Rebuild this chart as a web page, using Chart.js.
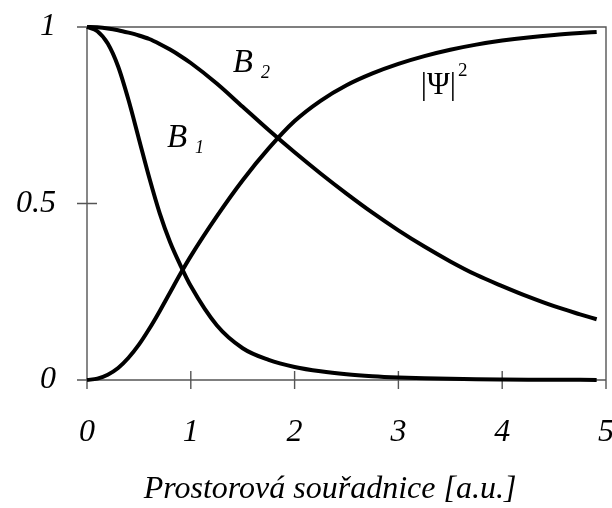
<!DOCTYPE html>
<html>
<head>
<meta charset="utf-8">
<script src="https://cdn.jsdelivr.net/npm/chart.js@4/dist/chart.umd.min.js"></script>
<style>
  html, body { margin: 0; padding: 0; background: #ffffff; }
  canvas { display: block; }
</style>
</head>
<body>
<canvas id="chart" width="612" height="508"></canvas>
<script>
// Spatial coordinate samples (a.u.)
const positions = [0, 0.1, 0.2, 0.3, 0.4, 0.5, 0.6, 0.7, 0.8, 0.9, 1.0,
  1.25, 1.5, 1.75, 2.0, 2.25, 2.5, 2.75, 3.0, 3.25, 3.5, 3.75, 4.0, 4.25, 4.5, 4.75, 4.91];

// B1 – fast decaying curve
const b1Values = [1, 0.988, 0.953, 0.888, 0.793, 0.683, 0.573, 0.473, 0.391, 0.325, 0.266,
  0.155, 0.09, 0.057, 0.037, 0.0245, 0.0162, 0.0108, 0.0072, 0.0048, 0.0032, 0.0021, 0.0014, 0.0009, 0.0006, 0.0004, 0.0003];

// B2 – slow decaying curve
const b2Values = [1, 0.999, 0.996, 0.991, 0.984, 0.976, 0.966, 0.952, 0.936, 0.918, 0.898,
  0.840, 0.774, 0.708, 0.645, 0.585, 0.528, 0.474, 0.424, 0.378, 0.336, 0.298, 0.266, 0.236, 0.209, 0.186, 0.172];

// |Psi|^2 – rising curve
const psiValues = [0, 0.004, 0.015, 0.034, 0.063, 0.100, 0.145, 0.195, 0.248, 0.301, 0.351,
  0.4635, 0.566, 0.656, 0.7335, 0.791, 0.835, 0.8685, 0.8955, 0.9175, 0.9355, 0.95, 0.9615, 0.9705, 0.9775, 0.983, 0.986];

const xTickValues = [0, 1, 2, 3, 4, 5];
const yTickValues = [0, 0.5, 1];
const axisTitle = 'Prostorová souřadnice [a.u.]';

// Curve labels anchored in data coordinates
const curveLabels = [
  { x: 1.405, y: 0.873, main: 'B', sub: '2' },
  { x: 0.77, y: 0.66, main: 'B', sub: '1' }
];
const psiLabel = { x: 3.215, y: 0.811 };

const serif = '"Liberation Serif", "DejaVu Serif", serif';

function toPoints(vals) {
  return positions.map((p, i) => ({ x: p, y: vals[i] }));
}

const lineStyle = {
  showLine: true,
  borderColor: '#000000',
  borderWidth: 4,
  pointRadius: 0,
  pointHoverRadius: 0,
  fill: false,
  cubicInterpolationMode: 'monotone',
  clip: false
};

// Frame around the plot and tick marks crossing the axes
const framePlugin = {
  id: 'frame',
  beforeDatasetsDraw(chart) {
    const { ctx, chartArea: a, scales: { x, y } } = chart;
    ctx.save();
    ctx.strokeStyle = '#555555';
    ctx.lineWidth = 1.4;
    ctx.beginPath();
    ctx.rect(a.left, a.top, a.right - a.left, a.bottom - a.top);
    x.ticks.forEach(t => {
      const px = x.getPixelForValue(t.value);
      ctx.moveTo(px, a.bottom - 9);
      ctx.lineTo(px, a.bottom + 9);
    });
    y.ticks.forEach(t => {
      const py = y.getPixelForValue(t.value);
      ctx.moveTo(a.left - 10, py);
      ctx.lineTo(t.value === 0.5 ? a.left + 10 : a.left, py);
    });
    ctx.stroke();
    ctx.restore();
  }
};

// Curve name annotations and the axis title
const labelPlugin = {
  id: 'curveNames',
  afterDatasetsDraw(chart) {
    const { ctx, scales: { x, y } } = chart;
    ctx.save();
    ctx.fillStyle = '#000000';
    ctx.textBaseline = 'alphabetic';
    ctx.textAlign = 'left';
    curveLabels.forEach(l => {
      const px = x.getPixelForValue(l.x);
      const py = y.getPixelForValue(l.y);
      ctx.font = 'italic 33px ' + serif;
      ctx.fillText(l.main, px, py);
      const w = ctx.measureText(l.main).width;
      ctx.font = 'italic 18px ' + serif;
      ctx.fillText(l.sub, px + w + 8, py + 6);
    });
    const qx = x.getPixelForValue(psiLabel.x);
    const qy = y.getPixelForValue(psiLabel.y);
    ctx.font = '31px ' + serif;
    ctx.fillText('|Ψ|', qx, qy);
    const w = ctx.measureText('|Ψ|').width;
    ctx.font = '19px ' + serif;
    ctx.fillText('2', qx + w + 2, qy - 18);

    // axis title
    ctx.font = 'italic 32px ' + serif;
    ctx.textAlign = 'center';
    ctx.textBaseline = 'middle';
    ctx.fillText(axisTitle, chart.width / 2 + 24, chart.height - 18);
    ctx.restore();
  }
};

new Chart(document.getElementById('chart'), {
  type: 'scatter',
  data: {
    datasets: [
      Object.assign({ label: 'B1', data: toPoints(b1Values) }, lineStyle),
      Object.assign({ label: 'B2', data: toPoints(b2Values) }, lineStyle),
      Object.assign({ label: '|Ψ|²', data: toPoints(psiValues) }, lineStyle)
    ]
  },
  options: {
    responsive: false,
    animation: false,
    devicePixelRatio: 1,
    layout: { padding: { top: 27, right: 6, left: 0, bottom: 0 } },
    plugins: { legend: { display: false }, tooltip: { enabled: false } },
    scales: {
      x: {
        type: 'linear',
        min: 0,
        max: 5,
        grid: { display: false, drawTicks: false },
        border: { display: false },
        afterBuildTicks: s => { s.ticks = xTickValues.map(v => ({ value: v })); },
        afterFit: s => { s.height = 128; s.paddingLeft = 0; s.paddingRight = 0; },
        ticks: {
          color: '#000000',
          padding: 33,
          maxRotation: 0,
          font: { family: serif, size: 32, style: 'italic' },
          callback: v => String(v)
        },
        title: { display: false }
      },
      y: {
        type: 'linear',
        min: 0,
        max: 1,
        grid: { display: false, drawTicks: false },
        border: { display: false },
        afterBuildTicks: s => { s.ticks = yTickValues.map(v => ({ value: v })); },
        afterFit: s => { s.width = 87; s.paddingTop = 0; s.paddingBottom = 0; },
        ticks: {
          color: '#000000',
          padding: 31,
          font: { family: serif, size: 32, style: 'italic' },
          callback: v => String(v)
        }
      }
    }
  },
  plugins: [framePlugin, labelPlugin]
});
</script>
</body>
</html>
